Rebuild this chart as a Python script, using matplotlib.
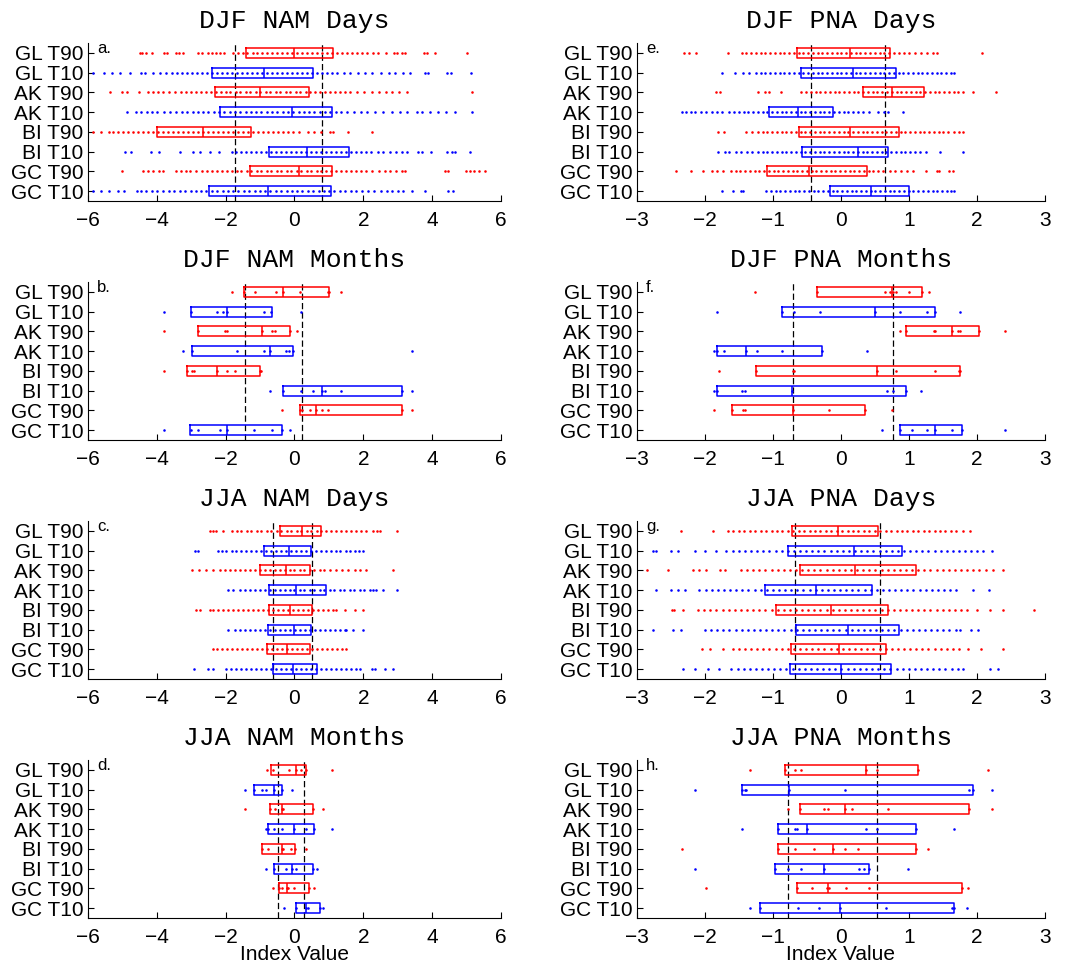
"""
Box plots of NAM / PNA index values for the T90 / T10 days and months
"""

import matplotlib.pyplot as plt

labels = ['GL T90', 'GL T10', 'AK T90', 'AK T10', 'BI T90', 'BI T10', 'GC T90', 'GC T10']
colors = ['red', 'blue'] * 4

titles = ['DJF NAM Days', 'DJF NAM Months', 'JJA NAM Days', 'JJA NAM Months',
          'DJF PNA Days', 'DJF PNA Months', 'JJA PNA Days', 'JJA PNA Months']
letters = ['a.', 'b.', 'c.', 'd.', 'e.', 'f.', 'g.', 'h.']

# ---- a. DJF NAM Days ----
a_q1 = [-1.40, -2.39, -2.32, -2.17, -3.99, -0.74, -1.28, -2.48]
a_med = [0.00, -0.88, -1.01, -0.07, -2.66, 0.35, 0.14, -0.76]
a_q3 = [1.12, 0.53, 0.43, 1.08, -1.25, 1.57, 1.10, 1.06]
a_lines = [-1.73, 0.79]
a_pts = [
    [-4.50, -4.42, -4.31, -4.15, -3.80, -3.71, -3.45, -3.36, -3.24, -2.81, -2.69, -2.52, -2.40, -2.28, -2.17,
     -2.05, -1.78, -1.64, -1.50, -1.37, -1.22, -1.08, -0.93, -0.79, -0.64, -0.50, -0.36, -0.21, -0.07, 0.08,
     0.22, 0.37, 0.51, 0.66, 0.80, 0.95, 1.09, 1.24, 1.38, 1.53, 1.67, 1.82, 1.96, 2.11, 2.28, 2.42, 2.66,
     2.88, 2.97, 3.12, 3.21, 3.77, 3.86, 4.08, 5.00],
    [-5.85, -5.55, -5.30, -5.06, -4.78, -4.47, -4.33, -4.12, -3.92, -3.73, -3.55, -3.41, -3.26, -3.12, -2.97,
     -2.83, -2.68, -2.54, -2.39, -2.25, -2.10, -1.96, -1.81, -1.67, -1.52, -1.38, -1.23, -1.09, -0.94, -0.80,
     -0.65, -0.51, -0.36, -0.22, -0.07, 0.07, 0.22, 0.36, 0.51, 0.65, 0.80, 0.94, 1.09, 1.23, 1.45, 1.62,
     1.85, 2.04, 2.26, 2.52, 2.76, 2.93, 3.16, 3.36, 3.80, 3.88, 4.42, 4.56, 5.12],
    [-5.37, -5.01, -4.88, -4.52, -4.26, -4.11, -3.97, -3.82, -3.66, -3.47, -3.31, -3.16, -3.02, -2.87, -2.73,
     -2.58, -2.44, -2.29, -2.15, -2.00, -1.86, -1.71, -1.57, -1.42, -1.28, -1.13, -0.99, -0.84, -0.70, -0.55,
     -0.41, -0.26, -0.12, 0.03, 0.17, 0.32, 0.46, 0.61, 0.75, 0.90, 1.04, 1.19, 1.33, 1.48, 1.62, 1.81, 2.02,
     2.26, 2.47, 2.65, 2.84, 3.05, 3.27, 5.15],
    [-4.88, -4.61, -4.47, -4.30, -4.15, -4.01, -3.78, -3.62, -3.43, -3.28, -3.12, -2.96, -2.81, -2.66, -2.50,
     -2.35, -2.19, -2.04, -1.88, -1.73, -1.58, -1.42, -1.27, -1.11, -0.96, -0.81, -0.65, -0.50, -0.34, -0.19,
     -0.04, 0.12, 0.27, 0.43, 0.58, 0.73, 0.89, 1.04, 1.20, 1.35, 1.52, 1.74, 1.93, 2.12, 2.34, 2.57, 2.83,
     3.08, 3.28, 3.56, 3.71, 3.93, 4.18, 4.40, 4.65, 5.15],
    [-5.85, -5.62, -5.40, -5.27, -5.13, -4.98, -4.84, -4.69, -4.55, -4.40, -4.26, -4.11, -3.97, -3.82, -3.68,
     -3.53, -3.39, -3.24, -3.10, -2.95, -2.81, -2.66, -2.52, -2.37, -2.23, -2.08, -1.94, -1.79, -1.65, -1.50,
     -1.36, -1.21, -1.07, -0.92, -0.78, -0.63, -0.49, -0.34, -0.20, -0.05, 0.12, 0.38, 0.57, 0.76, 1.02,
     1.12, 1.56, 2.24],
    [-4.93, -4.74, -4.18, -3.95, -3.33, -2.95, -2.76, -2.45, -2.20, -1.83, -1.69, -1.54, -1.40, -1.25, -1.11,
     -0.96, -0.82, -0.67, -0.53, -0.38, -0.24, -0.09, 0.05, 0.20, 0.34, 0.49, 0.63, 0.78, 0.92, 1.07, 1.21,
     1.36, 1.50, 1.65, 1.79, 1.94, 2.08, 2.23, 2.42, 2.58, 2.77, 2.96, 3.13, 3.27, 3.58, 3.72, 3.98, 4.42,
     4.57, 4.66, 5.10],
    [-5.00, -4.40, -4.26, -4.12, -3.93, -3.82, -3.45, -3.31, -3.15, -3.04, -2.85, -2.70, -2.55, -2.41, -2.26,
     -2.12, -1.97, -1.83, -1.68, -1.54, -1.39, -1.25, -1.10, -0.96, -0.81, -0.67, -0.52, -0.38, -0.23, -0.09,
     0.06, 0.20, 0.35, 0.49, 0.64, 0.78, 0.93, 1.07, 1.22, 1.36, 1.51, 1.65, 1.80, 1.94, 2.09, 2.26, 2.45,
     2.63, 2.78, 2.96, 3.12, 3.22, 4.36, 4.46, 4.97, 5.09, 5.22, 5.35, 5.55],
    [-5.85, -5.62, -5.40, -5.13, -4.96, -4.58, -4.47, -4.31, -4.15, -4.00, -3.82, -3.64, -3.49, -3.33, -3.18,
     -3.02, -2.87, -2.71, -2.56, -2.40, -2.25, -2.09, -1.94, -1.78, -1.63, -1.47, -1.32, -1.16, -1.01, -0.85,
     -0.70, -0.54, -0.39, -0.23, -0.08, 0.08, 0.23, 0.39, 0.54, 0.70, 0.85, 1.01, 1.16, 1.32, 1.47, 1.63,
     1.80, 1.97, 2.14, 2.32, 2.50, 2.68, 2.84, 3.02, 3.16, 3.42, 3.80, 4.47, 4.60],
]

# ---- b. DJF NAM Months ----
b_q1 = [-1.47, -3.02, -2.81, -2.97, -3.13, -0.32, 0.16, -3.03]
b_med = [-0.33, -1.97, -0.94, -0.72, -2.25, 0.81, 0.62, -1.97]
b_q3 = [1.00, -0.64, -0.13, -0.05, -0.99, 3.11, 3.11, -0.35]
b_lines = [-1.44, 0.22]
b_pts = [
    [-1.81, -1.46, -1.15, -0.54, -0.33, 0.16, 0.98, 1.00, 1.35],
    [-3.79, -3.02, -2.24, -2.09, -1.97, -0.88, -0.67, 0.18],
    [-3.79, -2.81, -2.03, -1.97, -0.94, -0.64, -0.58, -0.13, 0.06],
    [-3.25, -2.97, -1.68, -0.88, -0.72, -0.26, -0.17, -0.05, 3.41],
    [-3.79, -3.13, -2.99, -2.92, -2.25, -1.95, -1.72, -0.99, -0.96],
    [-0.70, -0.32, 0.18, 0.54, 0.81, 0.90, 1.36, 3.11, 3.41],
    [-0.36, 0.16, 0.21, 0.44, 0.62, 0.80, 0.96, 3.11, 3.41],
    [-3.79, -3.02, -2.79, -2.16, -1.97, -1.18, -0.65, -0.35, -0.12],
]

# ---- c. JJA NAM Days ----
c_q1 = [-0.41, -0.89, -1.01, -0.74, -0.74, -0.76, -0.81, -0.62]
c_med = [0.23, -0.17, -0.26, 0.03, -0.13, -0.02, -0.21, -0.05]
c_q3 = [0.76, 0.47, 0.45, 0.91, 0.51, 0.47, 0.45, 0.66]
c_lines = [-0.62, 0.51]
c_pts = [
    [-2.46, -2.37, -2.28, -2.07, -1.83, -1.68, -1.54, -1.39, -1.25, -1.10, -0.96, -0.81, -0.67, -0.52, -0.38,
     -0.23, -0.09, 0.06, 0.20, 0.35, 0.49, 0.64, 0.78, 0.93, 1.07, 1.22, 1.36, 1.51, 1.65, 1.80, 1.93, 2.09,
     2.29, 2.40, 2.48, 2.97],
    [-2.90, -2.80, -2.22, -2.12, -1.98, -1.83, -1.69, -1.54, -1.40, -1.25, -1.11, -0.96, -0.82, -0.67, -0.53,
     -0.38, -0.24, -0.09, 0.05, 0.20, 0.34, 0.49, 0.63, 0.78, 0.92, 1.07, 1.21, 1.32, 1.50, 1.62, 1.75, 1.88,
     2.00],
    [-2.99, -2.77, -2.56, -2.36, -2.17, -2.03, -1.88, -1.74, -1.59, -1.45, -1.30, -1.16, -1.01, -0.87, -0.72,
     -0.58, -0.43, -0.29, -0.14, 0.00, 0.15, 0.29, 0.44, 0.58, 0.73, 0.87, 1.02, 1.22, 1.38, 1.56, 1.75, 1.90,
     2.09, 2.87],
    [-1.93, -1.78, -1.59, -1.45, -1.30, -1.16, -1.01, -0.87, -0.72, -0.58, -0.43, -0.29, -0.14, 0.00, 0.15,
     0.29, 0.44, 0.58, 0.73, 0.87, 1.02, 1.16, 1.31, 1.45, 1.60, 1.74, 1.89, 2.03, 2.18, 2.29, 2.38, 2.58,
     2.97],
    [-2.85, -2.75, -2.46, -2.36, -2.22, -2.07, -1.93, -1.78, -1.64, -1.49, -1.35, -1.20, -1.06, -0.91, -0.77,
     -0.62, -0.48, -0.33, -0.19, -0.04, 0.10, 0.25, 0.39, 0.54, 0.68, 0.83, 0.97, 1.12, 1.22, 1.46, 1.75,
     2.00],
    [-1.93, -1.73, -1.59, -1.44, -1.30, -1.15, -1.01, -0.86, -0.72, -0.57, -0.43, -0.28, -0.14, 0.01, 0.15,
     0.30, 0.44, 0.59, 0.73, 0.88, 1.02, 1.17, 1.31, 1.46, 1.51, 1.70, 2.00],
    [-2.38, -2.24, -2.10, -1.95, -1.81, -1.66, -1.52, -1.37, -1.23, -1.08, -0.94, -0.79, -0.65, -0.50, -0.36,
     -0.21, -0.07, 0.08, 0.22, 0.37, 0.51, 0.66, 0.80, 0.95, 1.09, 1.24, 1.38, 1.51],
    [-2.93, -2.51, -2.36, -1.98, -1.84, -1.69, -1.55, -1.40, -1.26, -1.11, -0.97, -0.82, -0.68, -0.53, -0.39,
     -0.24, -0.10, 0.05, 0.19, 0.34, 0.48, 0.63, 0.77, 0.92, 1.06, 1.21, 1.35, 1.50, 1.64, 1.79, 1.90, 2.24,
     2.33, 2.63, 2.87],
]

# ---- d. JJA NAM Months ----
d_q1 = [-0.67, -1.18, -0.70, -0.78, -0.93, -0.61, -0.45, 0.03]
d_med = [0.03, -0.60, -0.36, 0.00, -0.36, -0.06, -0.21, 0.33]
d_q3 = [0.33, -0.35, 0.55, 0.56, 0.02, 0.55, 0.42, 0.74]
d_lines = [-0.49, 0.29]
d_pts = [
    [-0.79, -0.62, -0.16, 0.03, 0.20, 0.33, 1.09],
    [-1.43, -1.18, -0.93, -0.83, -0.60, -0.35, -0.06],
    [-1.43, -0.70, -0.57, -0.36, -0.32, 0.55, 0.84],
    [-0.83, -0.78, -0.59, -0.35, 0.00, 0.32, 0.56, 1.09],
    [-0.93, -0.78, -0.36, -0.32, -0.10, 0.02, 0.32],
    [-0.84, -0.61, -0.25, -0.06, 0.03, 0.55, 0.64],
    [-0.62, -0.45, -0.35, -0.21, -0.18, -0.02, 0.42, 0.56],
    [-0.30, 0.03, 0.33, 0.40, 0.74, 0.83],
]

# ---- e. DJF PNA Days ----
e_q1 = [-0.645, -0.58, 0.33, -1.06, -0.62, -0.57, -1.08, -0.165]
e_med = [0.14, 0.18, 0.75, -0.63, 0.14, 0.26, -0.47, 0.44]
e_q3 = [0.72, 0.81, 1.22, -0.115, 0.86, 0.69, 0.385, 1.01]
e_lines = [-0.44, 0.65]
e_pts = [
    [-2.31, -2.24, -2.13, -1.66, -1.45, -1.39, -1.32, -1.25, -1.18, -1.11, -1.04, -0.97, -0.90, -0.83, -0.76,
     -0.69, -0.62, -0.55, -0.48, -0.41, -0.34, -0.27, -0.20, -0.13, -0.06, 0.01, 0.08, 0.15, 0.22, 0.29,
     0.36, 0.43, 0.50, 0.57, 0.64, 0.71, 0.78, 0.85, 0.93, 1.01, 1.09, 1.18, 1.27, 1.35, 1.41, 2.08],
    [-1.75, -1.56, -1.44, -1.35, -1.25, -1.18, -1.11, -1.04, -0.97, -0.90, -0.83, -0.76, -0.69, -0.62, -0.55,
     -0.48, -0.41, -0.34, -0.27, -0.20, -0.13, -0.06, 0.01, 0.08, 0.15, 0.22, 0.29, 0.36, 0.43, 0.50, 0.57,
     0.64, 0.71, 0.78, 0.85, 0.92, 0.99, 1.06, 1.13, 1.20, 1.27, 1.34, 1.41, 1.48, 1.55, 1.62, 1.66],
    [-1.83, -1.78, -1.22, -1.12, -1.05, -0.88, -0.58, -0.51, -0.44, -0.37, -0.30, -0.23, -0.16, -0.09, -0.02,
     0.05, 0.12, 0.19, 0.26, 0.33, 0.40, 0.47, 0.54, 0.61, 0.68, 0.75, 0.82, 0.89, 0.96, 1.03, 1.10, 1.17,
     1.24, 1.31, 1.38, 1.45, 1.52, 1.59, 1.66, 1.73, 1.80, 1.95, 2.29],
    [-2.34, -2.28, -2.21, -2.14, -2.06, -1.98, -1.90, -1.82, -1.75, -1.64, -1.57, -1.50, -1.43, -1.36, -1.29,
     -1.22, -1.15, -1.08, -1.01, -0.94, -0.87, -0.80, -0.73, -0.66, -0.59, -0.52, -0.45, -0.38, -0.31, -0.24,
     -0.17, -0.10, -0.03, 0.04, 0.11, 0.18, 0.25, 0.32, 0.42, 0.55, 0.63, 0.70, 0.92],
    [-1.81, -1.72, -1.39, -1.31, -1.22, -1.15, -1.08, -1.01, -0.94, -0.87, -0.80, -0.73, -0.66, -0.59, -0.52,
     -0.45, -0.38, -0.31, -0.24, -0.17, -0.10, -0.03, 0.04, 0.11, 0.18, 0.25, 0.32, 0.39, 0.46, 0.53, 0.60,
     0.67, 0.74, 0.81, 0.88, 0.95, 1.02, 1.09, 1.16, 1.23, 1.30, 1.37, 1.44, 1.51, 1.58, 1.66, 1.74, 1.80],
    [-1.81, -1.70, -1.64, -1.55, -1.47, -1.38, -1.30, -1.22, -1.15, -1.08, -1.01, -0.94, -0.87, -0.80, -0.73,
     -0.66, -0.59, -0.52, -0.45, -0.38, -0.31, -0.24, -0.17, -0.10, -0.03, 0.04, 0.11, 0.18, 0.25, 0.32,
     0.39, 0.46, 0.53, 0.60, 0.67, 0.74, 0.81, 0.88, 0.95, 1.02, 1.09, 1.17, 1.26, 1.46, 1.80],
    [-2.42, -2.21, -2.03, -1.90, -1.82, -1.74, -1.62, -1.55, -1.48, -1.41, -1.34, -1.27, -1.20, -1.13, -1.06,
     -0.99, -0.92, -0.85, -0.78, -0.71, -0.64, -0.57, -0.50, -0.43, -0.36, -0.29, -0.22, -0.15, -0.08, -0.01,
     0.06, 0.13, 0.20, 0.27, 0.34, 0.41, 0.48, 0.55, 0.62, 0.72, 0.80, 0.88, 0.97, 1.06, 1.26, 1.41, 1.45,
     1.60, 1.65],
    [-1.75, -1.59, -1.47, -1.44, -1.10, -1.03, -0.96, -0.89, -0.82, -0.75, -0.68, -0.61, -0.54, -0.47, -0.40,
     -0.33, -0.26, -0.19, -0.12, -0.05, 0.02, 0.09, 0.16, 0.23, 0.30, 0.37, 0.44, 0.51, 0.58, 0.65, 0.72,
     0.79, 0.86, 0.93, 1.00, 1.07, 1.14, 1.21, 1.28, 1.35, 1.42, 1.49, 1.56, 1.62, 1.66],
]

# ---- f. DJF PNA Months ----
f_q1 = [-0.35, -0.86, 0.96, -1.82, -1.25, -1.82, -1.60, 0.875]
f_med = [0.75, 0.51, 1.63, -1.39, 0.53, -0.72, -0.70, 1.39]
f_q3 = [1.19, 1.39, 2.04, -0.27, 1.75, 0.96, 0.35, 1.78]
f_lines = [-0.71, 0.77]
f_pts = [
    [-1.26, -0.35, 0.65, 0.73, 0.77, 0.81, 1.00, 1.19, 1.30],
    [-1.82, -0.86, -0.69, -0.31, 0.51, 0.87, 1.27, 1.39, 1.76],
    [0.87, 0.96, 1.37, 1.39, 1.63, 1.73, 1.76, 2.04, 2.42],
    [-1.86, -1.82, -1.72, -1.39, -1.24, -0.86, -0.27, 0.39],
    [-1.80, -1.25, -0.70, -0.69, 0.53, 0.81, 1.39, 1.74, 1.75],
    [-1.86, -1.82, -1.46, -1.41, -0.72, 0.68, 0.77, 0.96, 1.18],
    [-1.86, -1.60, -1.44, -1.41, -0.70, -0.18, 0.35, 0.75],
    [0.61, 0.875, 1.05, 1.27, 1.39, 1.63, 1.78, 2.42],
]

# ---- g. JJA PNA Days ----
g_q1 = [-0.72, -0.78, -0.60, -1.12, -0.96, -0.66, -0.73, -0.75]
g_med = [-0.04, 0.19, 0.21, -0.36, -0.14, 0.10, -0.03, 0.00]
g_q3 = [0.55, 0.90, 1.10, 0.46, 0.69, 0.85, 0.67, 0.74]
g_lines = [-0.68, 0.57]
g_pts = [
    [-2.35, -1.88, -1.66, -1.58, -1.50, -1.42, -1.34, -1.26, -1.18, -1.10, -1.02, -0.94, -0.86, -0.78, -0.70,
     -0.62, -0.54, -0.46, -0.38, -0.30, -0.22, -0.14, -0.06, 0.02, 0.10, 0.18, 0.26, 0.34, 0.42, 0.50, 0.58,
     0.66, 0.74, 0.82, 0.90, 0.98, 1.06, 1.14, 1.22, 1.30, 1.38, 1.46, 1.54, 1.62, 1.70, 1.80, 1.90],
    [-2.77, -2.72, -2.50, -2.40, -2.15, -2.00, -1.83, -1.69, -1.59, -1.50, -1.41, -1.32, -1.23, -1.14, -1.05,
     -0.96, -0.87, -0.78, -0.69, -0.60, -0.51, -0.42, -0.33, -0.24, -0.15, -0.06, 0.03, 0.12, 0.21, 0.30,
     0.39, 0.48, 0.57, 0.66, 0.75, 0.84, 0.93, 1.02, 1.11, 1.20, 1.29, 1.38, 1.47, 1.56, 1.65, 1.74, 1.83,
     1.92, 2.01, 2.09, 2.22],
    [-2.85, -2.54, -2.18, -2.08, -1.98, -1.78, -1.71, -1.47, -1.38, -1.29, -1.20, -1.11, -1.02, -0.93, -0.84,
     -0.75, -0.66, -0.57, -0.48, -0.39, -0.30, -0.21, -0.12, -0.03, 0.06, 0.15, 0.24, 0.33, 0.42, 0.51, 0.60,
     0.69, 0.78, 0.87, 0.96, 1.05, 1.14, 1.23, 1.32, 1.41, 1.50, 1.59, 1.68, 1.77, 1.86, 1.95, 2.04, 2.14,
     2.24, 2.39],
    [-2.72, -2.50, -2.40, -2.30, -2.08, -1.99, -1.90, -1.81, -1.72, -1.63, -1.54, -1.45, -1.36, -1.27, -1.18,
     -1.09, -1.00, -0.91, -0.82, -0.73, -0.64, -0.55, -0.46, -0.37, -0.28, -0.19, -0.10, -0.01, 0.08, 0.17,
     0.26, 0.35, 0.44, 0.53, 0.62, 0.71, 0.80, 0.89, 0.98, 1.07, 1.16, 1.25, 1.34, 1.43, 1.52, 1.61, 1.70,
     1.95, 2.18],
    [-2.49, -2.45, -2.32, -2.10, -2.01, -1.92, -1.83, -1.74, -1.65, -1.56, -1.47, -1.38, -1.29, -1.20, -1.11,
     -1.02, -0.93, -0.84, -0.75, -0.66, -0.57, -0.48, -0.39, -0.30, -0.21, -0.12, -0.03, 0.06, 0.15, 0.24,
     0.33, 0.42, 0.51, 0.60, 0.69, 0.78, 0.87, 0.96, 1.05, 1.14, 1.23, 1.32, 1.41, 1.50, 1.59, 1.68, 1.77,
     1.86, 2.00, 2.19, 2.39, 2.85],
    [-2.77, -2.47, -2.35, -2.00, -1.91, -1.82, -1.73, -1.64, -1.55, -1.46, -1.37, -1.28, -1.19, -1.10, -1.01,
     -0.92, -0.83, -0.74, -0.65, -0.56, -0.47, -0.38, -0.29, -0.20, -0.11, -0.02, 0.07, 0.16, 0.25, 0.34,
     0.43, 0.52, 0.61, 0.70, 0.79, 0.88, 0.97, 1.06, 1.15, 1.24, 1.33, 1.42, 1.51, 1.60, 1.69, 1.75, 1.92,
     2.02],
    [-2.05, -1.92, -1.74, -1.59, -1.50, -1.41, -1.32, -1.23, -1.14, -1.05, -0.96, -0.87, -0.78, -0.69, -0.60,
     -0.51, -0.42, -0.33, -0.24, -0.15, -0.06, 0.03, 0.12, 0.21, 0.30, 0.39, 0.48, 0.57, 0.66, 0.75, 0.84,
     0.93, 1.02, 1.11, 1.20, 1.29, 1.38, 1.47, 1.56, 1.65, 1.74, 1.87, 2.07, 2.39],
    [-2.32, -2.15, -1.96, -1.79, -1.61, -1.52, -1.43, -1.34, -1.25, -1.16, -1.07, -0.98, -0.89, -0.80, -0.71,
     -0.62, -0.53, -0.44, -0.35, -0.26, -0.17, -0.08, 0.01, 0.10, 0.19, 0.28, 0.37, 0.46, 0.55, 0.64, 0.73,
     0.82, 0.91, 1.00, 1.09, 1.18, 1.27, 1.36, 1.45, 1.54, 1.63, 1.72, 1.80, 2.19, 2.31],
]

# ---- h. JJA PNA Months ----
h_q1 = [-0.82, -1.45, -0.60, -0.92, -0.92, -0.97, -0.64, -1.19]
h_med = [0.37, -0.76, 0.06, -0.50, -0.12, -0.24, -0.19, -0.01]
h_q3 = [1.13, 1.94, 1.89, 1.10, 1.10, 0.41, 1.79, 1.67]
h_lines = [-0.77, 0.53]
h_pts = [
    [-1.34, -0.82, -0.67, -0.59, 0.37, 0.53, 1.13, 2.16],
    [-2.15, -1.45, -1.41, -1.39, -0.76, 0.06, 1.89, 1.94, 2.22],
    [-0.77, -0.60, -0.24, -0.19, 0.06, 0.16, 0.69, 1.89, 2.22],
    [-1.45, -0.92, -0.67, -0.65, -0.50, 0.37, 0.53, 1.10, 1.67],
    [-2.34, -0.92, -0.67, -0.40, -0.12, 0.06, 0.25, 1.10, 1.29],
    [-2.15, -0.97, -0.77, -0.59, -0.24, 0.27, 0.34, 0.41, 0.99],
    [-1.99, -0.64, -0.42, -0.20, -0.18, 0.07, 0.42, 1.79, 1.87],
    [-1.34, -1.19, -0.63, -0.32, -0.01, 0.66, 1.63, 1.67, 1.86],
]

panels = [
    (a_q1, a_med, a_q3, a_lines, a_pts),
    (b_q1, b_med, b_q3, b_lines, b_pts),
    (c_q1, c_med, c_q3, c_lines, c_pts),
    (d_q1, d_med, d_q3, d_lines, d_pts),
    (e_q1, e_med, e_q3, e_lines, e_pts),
    (f_q1, f_med, f_q3, f_lines, f_pts),
    (g_q1, g_med, g_q3, g_lines, g_pts),
    (h_q1, h_med, h_q3, h_lines, h_pts),
]

fig = plt.figure(figsize=(10.67, 9.65), dpi=100)

lefts = [0.0825, 0.597]
widths = [0.387, 0.382]
bottoms = [0.7917, 0.544, 0.2964, 0.0487]
height = 0.1637
xlims = [(-6, 6), (-3, 3)]
xticks = [[-6, -4, -2, 0, 2, 4, 6], [-3, -2, -1, 0, 1, 2, 3]]

for k, (q1, med, q3, vlines, pts) in enumerate(panels):
    col, row = k // 4, k % 4
    ax = fig.add_axes([lefts[col], bottoms[row], widths[col], height])
    pos = list(range(1, 9))

    # individual values as small dots
    for i in range(8):
        ax.plot(pts[i], [pos[i]] * len(pts[i]), '.', color=colors[i], ms=3.7, mew=0, zorder=2)

    # threshold lines
    for v in vlines:
        ax.axvline(v, color='black', linestyle=(0, (5, 2.5)), linewidth=0.9, zorder=1)

    # boxes (no whiskers)
    for i in range(8):
        stats = [{'q1': q1[i], 'med': med[i], 'q3': q3[i],
                  'whislo': q1[i], 'whishi': q3[i], 'fliers': []}]
        ax.bxp(stats, positions=[pos[i]], widths=0.5, orientation='horizontal',
               showcaps=False, showfliers=False, manage_ticks=False,
               boxprops=dict(color=colors[i], linewidth=1.1),
               medianprops=dict(color=colors[i], linewidth=1.1),
               whiskerprops=dict(color=colors[i], linewidth=0))

    ax.set_xlim(*xlims[col])
    ax.set_ylim(8.5, 0.5)
    ax.set_xticks(xticks[col])
    ax.set_xticklabels([str(t).replace('-', '\u2212') for t in xticks[col]])
    ax.set_yticks(pos)
    ax.set_yticklabels(labels)
    ax.tick_params(direction='in', length=4, labelsize=15, width=0.8)
    ax.tick_params(axis='x', pad=7)
    for lab in ax.get_xticklabels() + ax.get_yticklabels():
        lab.set_fontfamily('Liberation Sans')
    ax.spines['top'].set_visible(False)
    ax.spines['right'].set_visible(False)

    ax.set_title(titles[k], fontsize=19, family='Liberation Mono', pad=11)
    ax.text(0.022, 1.0, letters[k], transform=ax.get_yaxis_transform(),
            fontsize=12, family='Liberation Sans', va='baseline')
    if row == 3:
        ax.set_xlabel('Index Value', fontsize=15, family='Liberation Sans', labelpad=-1)

plt.savefig('out.png', dpi=100)
